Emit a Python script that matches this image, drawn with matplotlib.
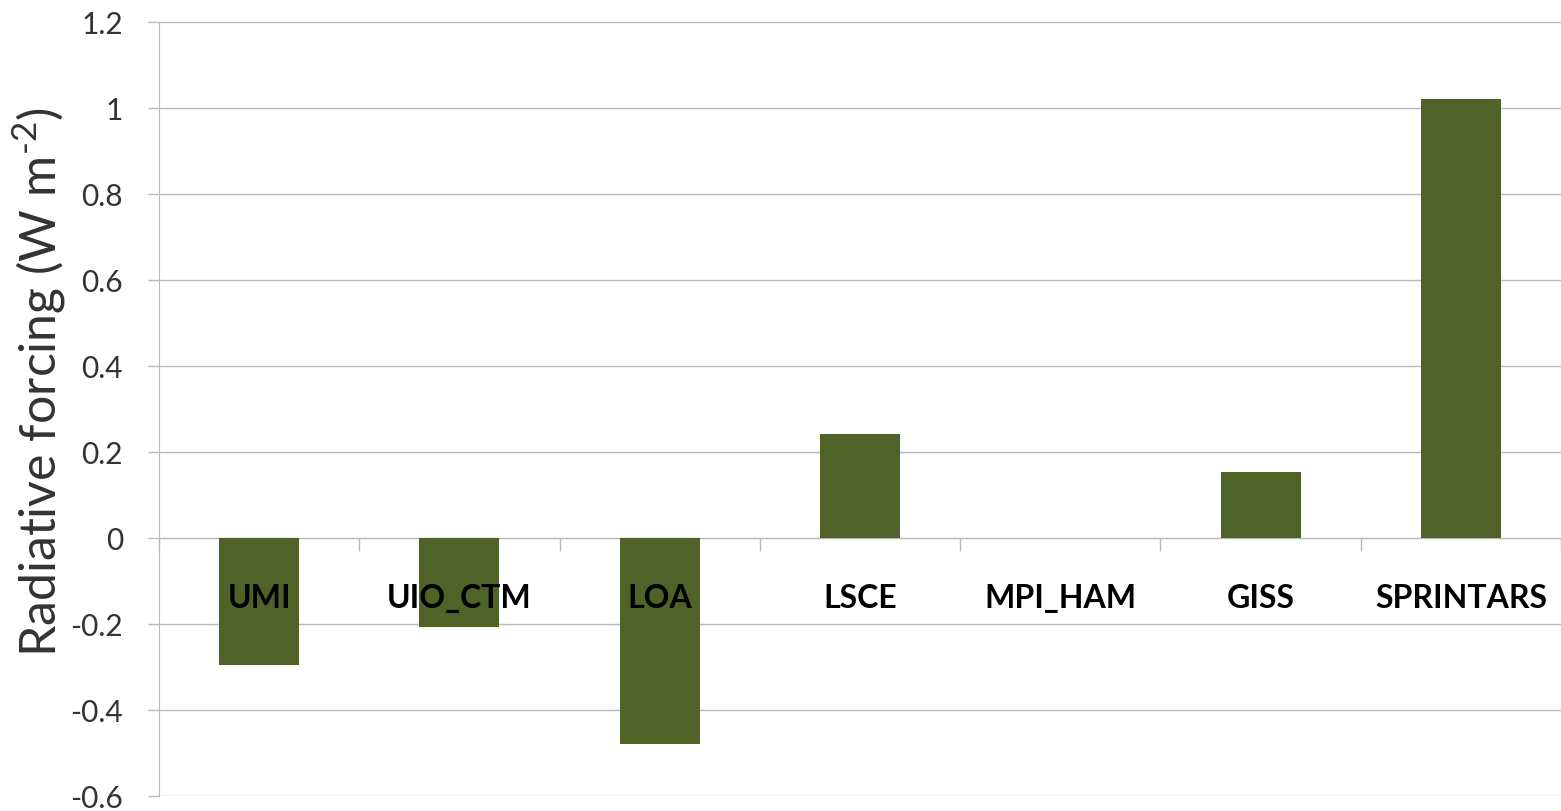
import numpy as np
import matplotlib
matplotlib.use("Agg")
import matplotlib.pyplot as plt

# model results
models = ["UMI", "UIO_CTM", "LOA", "LSCE", "MPI_HAM", "GISS", "SPRINTARS"]
forcing = [-0.295, -0.206, -0.478, 0.243, 0.0, 0.153, 1.022]
yticks = [-0.6, -0.4, -0.2, 0, 0.2, 0.4, 0.6, 0.8, 1, 1.2]
yticklabels = ["-0.6", "-0.4", "-0.2", "0", "0.2", "0.4", "0.6", "0.8", "1", "1.2"]

barColor = "#4f6228"
gridColor = "#b9b9b9"
textColor = "#333333"

plt.rcParams['font.family'] = ['Lato', 'DejaVu Sans']
plt.rcParams['mathtext.fontset'] = 'custom'
plt.rcParams['mathtext.rm'] = 'Lato'

W, H = 1561, 811
fig = plt.figure(figsize=(W / 100, H / 100), dpi=100)
# axes box in pixels: x 159..1561, y 22..796
ax = fig.add_axes([159 / W, 1 - 796 / H, (W - 159) / W, (796 - 22.3) / H])

x = np.arange(len(models))
ax.bar(x, forcing, width=0.4, color=barColor, zorder=3)

ax.set_ylim(-0.6, 1.2)
ax.set_xlim(-0.5, -0.5 + (W - 159) / 201.0)

ax.set_yticks(yticks)
ax.set_yticklabels(yticklabels, fontsize=21.5, color=textColor)
ax.tick_params(axis='y', length=8, width=1, color=gridColor, pad=18)
ax.yaxis.grid(True, color=gridColor, linewidth=1.0, zorder=0)

# category axis sits at zero, tick marks between categories
ax.spines['bottom'].set_position(('data', 0))
ax.spines['bottom'].set_color(gridColor)
ax.spines['bottom'].set_zorder(2)
ax.spines['left'].set_color(gridColor)
ax.spines['top'].set_visible(False)
ax.spines['right'].set_visible(False)
ax.set_xticks(np.arange(-0.5, len(models) + 0.5, 1.0))
ax.set_xticklabels([])
ax.tick_params(axis='x', length=9, width=1, color=gridColor, direction='out')

for i, name in enumerate(models):
    ax.text(x[i], -0.14, name, ha='center', va='center', fontsize=23,
            fontweight='bold', color='black', zorder=4)

ax.set_ylabel("Radiative forcing (W m$^{\\text{-2}}$)", fontsize=36,
              color=textColor, va='center')
ax.yaxis.set_label_coords(-0.085, 0.535)

fig.savefig("out.png", dpi=100)
